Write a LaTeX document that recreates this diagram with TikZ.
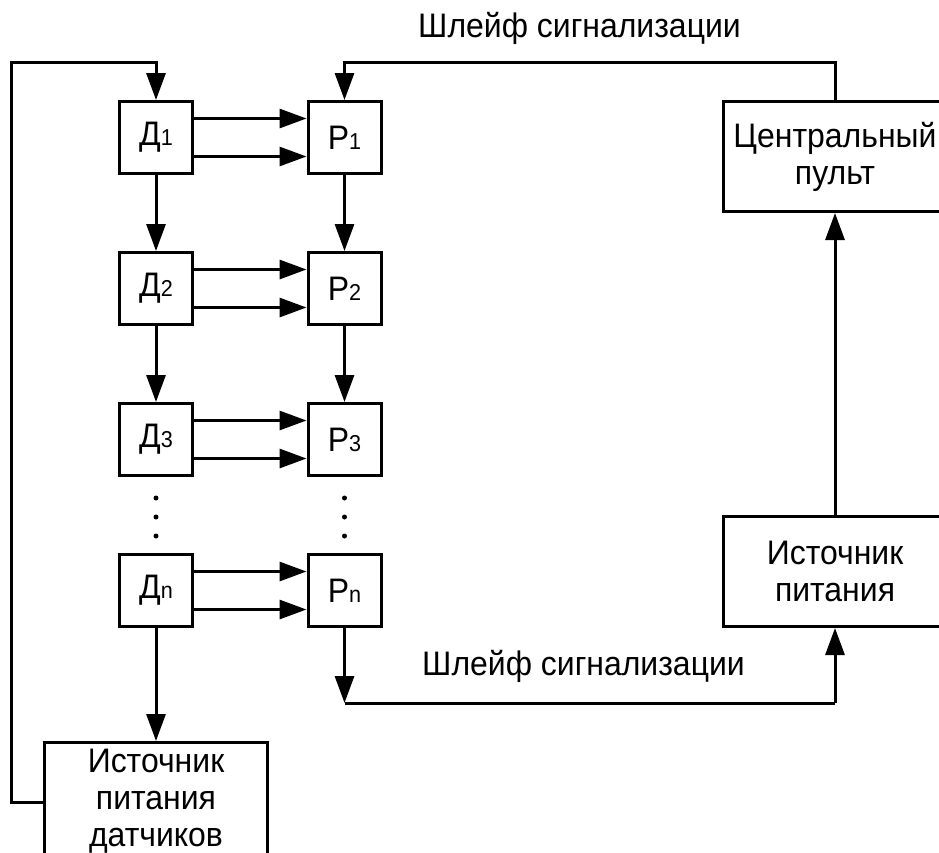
\documentclass[tikz,border=0pt]{standalone}
\usepackage{fontspec}
\setmainfont[FakeStretch=0.94]{Liberation Sans}
\usetikzlibrary{arrows.meta}
\newcommand\idx[1]{{\fontsize{23}{23}\selectfont #1}}
\begin{document}
\begin{tikzpicture}[x=1pt,y=-1pt,
  wire/.style={line width=3pt},
  flow/.style={wire,-{Triangle[length=27pt,width=19pt]}},
  unit/.style={draw,line width=3pt,minimum width=73pt,minimum height=72pt,inner sep=0pt,
    font=\fontsize{34}{37}\selectfont},
  block/.style={draw,line width=3pt,minimum width=223pt,minimum height=110pt,inner sep=0pt,
    align=center,font=\fontsize{34}{37}\selectfont},
  caption/.style={font=\fontsize{34}{37}\selectfont,inner sep=0pt,anchor=base west},
  dot/.style={circle,fill,inner sep=0pt,minimum size=5pt}]
\useasboundingbox (0,0) rectangle (939,852);
\clip (0,0) rectangle (939,852);

% sensors and relays
\node[unit] (d1) at (156,137.5) {Д\idx{1}};
\node[unit] (d2) at (156,288.5) {Д\idx{2}};
\node[unit] (d3) at (156,439.5) {Д\idx{3}};
\node[unit] (dn) at (156,590.5) {Д\idx{n}};
\node[unit] (p1) at (344.5,137.5) {Р\idx{1}};
\node[unit] (p2) at (344.5,288.5) {Р\idx{2}};
\node[unit] (p3) at (344.5,439.5) {Р\idx{3}};
\node[unit] (pn) at (344.5,590.5) {Р\idx{n}};

% ellipsis dots
\node[dot] (dd1) at (156,498) {};
\node[dot] (dd2) at (156,517) {};
\node[dot] (dd3) at (156,536) {};
\node[dot] (pd1) at (344.5,498) {};
\node[dot] (pd2) at (344.5,517) {};
\node[dot] (pd3) at (344.5,536) {};

% power supplies and console
\node[block] (cp) at (835,156.5) {Центральный\\пульт};
\node[block] (ps) at (835,571.5) {Источник\\питания};
\node[block,minimum height=117pt] (sps) at (156,801) {Источник\\питания\\датчиков};

% loop labels
\node[caption] (lbltop) at (418,37) {Шлейф сигнализации};
\node[caption] (lblbot) at (422,675) {Шлейф сигнализации};

% sensor -> relay pairs
\foreach \a/\b in {d1/p1,d2/p2,d3/p3,dn/pn}{
  \draw[flow] ([yshift=19pt]\a.east) -- ([yshift=19pt]\b.west);
  \draw[flow] ([yshift=-19pt]\a.east) -- ([yshift=-19pt]\b.west);
}

% chains
\draw[flow] (d1) -- (d2);
\draw[flow] (d2) -- (d3);
\draw[flow] (p1) -- (p2);
\draw[flow] (p2) -- (p3);
\draw[flow] (dn) -- (sps);

% sensor supply loop
\coordinate (tap) at (sps.west |- 0,802);
\coordinate (lb) at (11,802);
\coordinate (lt) at (11,62);
\coordinate (dt) at (156,62);
\draw[flow] (tap) -- (lb) -- (lt) -- (dt) -- (d1.north);

% upper alarm loop
\coordinate (tr) at (835,62);
\coordinate (tl) at (344.5,62);
\draw[flow] (cp.north) -- (tr) -- (tl) -- (p1.north);

% lower alarm loop
\coordinate (bl) at (344.5,703);
\coordinate (br) at (835,703);
\draw[flow] (pn.south) -- (bl);
\draw[wire] (bl) -- (br);
\draw[flow] (br) -- (ps.south);

% supply -> console
\draw[flow] (ps.north) -- (cp.south);
\end{tikzpicture}
\end{document}
